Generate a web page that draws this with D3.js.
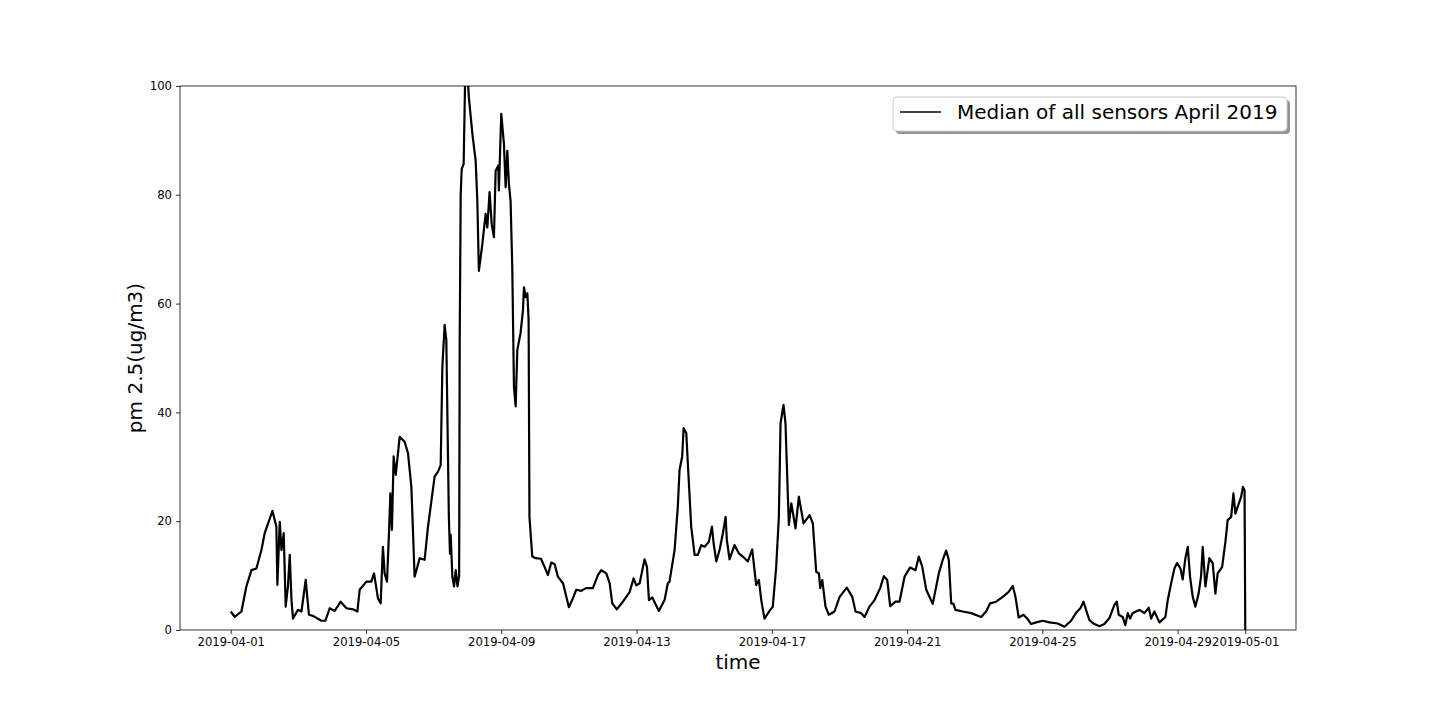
<!DOCTYPE html>
<html>
<head>
<meta charset="utf-8">
<script src="https://cdnjs.cloudflare.com/ajax/libs/d3/7.8.5/d3.min.js"></script>
<style>
  body { margin: 0; background: #fff; }
  svg { font-family: "DejaVu Sans", sans-serif; }
</style>
</head>
<body>
<div id="chart"></div>
<script>
// canvas size
var width = 1440,
    height = 720;
var margin = {top: 86, right: 144, bottom: 90, left: 180};

// hours since 2019-04-01 00:00 and the median pm 2.5 read at that time
var hours = [0, 2.8, 7.6, 11.1, 14.7, 18.2, 21.8, 24.1, 29.6, 32.4, 33.1, 34.8, 36.0, 37.6, 39.0,
    40.6, 41.9, 43.1, 44.2, 47.7, 50.2, 53.2, 55.5, 58.4, 64.3, 67.2, 70.2, 73.8, 78.0, 82.1,
    86.8, 89.9, 91.5, 96.3, 99.8, 101.7, 104.5, 106.4, 108.0, 109.2, 110.9, 112.3, 113.3, 114.4,
    115.6, 117.1, 119.9, 123.4, 125.8, 128.2, 130.5, 134.1, 137.6, 140.0, 144.7, 147.1, 149.0,
    150.2, 151.8, 153.0, 154.8, 155.6, 156.1, 157.3, 158.5, 159.7, 160.9, 162.1, 162.5, 163.2,
    163.9, 165.3, 166.4, 168.1, 169.0, 171.5, 173.8, 175.0, 176.1, 178.6, 180.9, 182.1, 183.7,
    185.2, 186.8, 188.0, 189.9, 190.3, 192.0, 193.9, 195.1, 196.3, 197.4, 198.6, 199.8, 201.0,
    202.2, 203.4, 205.7, 207.4, 208.1, 209.3, 210.5, 211.4, 212.0, 214.0, 216.4, 220.2, 222.7,
    225.1, 227.5, 229.9, 232.2, 235.8, 240.0, 242.8, 245.2, 248.8, 252.3, 257.0, 260.6, 263.0,
    266.5, 268.9, 270.8, 274.0, 278.3, 283.0, 285.9, 287.8, 290.2, 293.7, 295.4, 296.8, 299.2,
    303.8, 307.9, 310.2, 311.4, 315.0, 317.3, 318.5, 320.4, 321.4, 323.3, 324.4, 326.8, 329.2,
    331.5, 333.9, 336.3, 339.3, 341.5, 342.7, 344.6, 346.9, 349.3, 351.2, 352.1, 354.0, 357.5,
    360.6, 363.4, 367.0, 370.1, 371.7, 372.9, 374.8, 376.5, 378.8, 382.4, 384.7, 387.1, 389.0,
    390.2, 392.3, 393.7, 395.4, 396.1, 397.8, 400.8, 403.2, 406.5, 410.8, 413.1, 415.5, 417.4,
    418.4, 419.8, 422.1, 424.5, 428.5, 432.1, 437.2, 441.1, 443.4, 447.4, 449.8, 453.3, 456.9,
    460.9, 463.5, 465.9, 468.0, 471.8, 474.6, 478.2, 482.2, 486.0, 488.3, 490.7, 493.6, 498.2,
    502.5, 505.3, 507.7, 509.6, 511.3, 512.9, 514.3, 519.5, 525.5, 532.6, 536.1, 538.9, 543.2,
    547.9, 552.1, 555.0, 556.9, 559.2, 562.6, 565.6, 568.0, 571.6, 576.3, 581.0, 586.9, 591.7,
    596.4, 600.0, 603.0, 605.2, 607.1, 609.4, 612.2, 616.5, 620.0, 623.6, 627.1, 628.8, 630.2,
    633.0, 634.9, 636.6, 638.3, 640.1, 642.5, 644.9, 648.4, 651.5, 653.2, 655.5, 659.1, 663.3,
    665.0, 667.4, 669.7, 671.6, 674.0, 675.6, 677.5, 679.2, 680.8, 682.7, 684.6, 686.9, 688.6,
    689.8, 691.7, 694.5, 696.9, 698.8, 700.4, 703.6, 705.9, 707.5, 710.0, 711.6, 713.0, 714.7,
    717.1, 718.3, 719.5, 720.0];

var pm25 = [3.4, 2.4, 3.4, 8.0, 11.0, 11.3, 14.7, 17.8, 21.9, 19.0, 8.3, 19.9, 14.7, 17.8, 4.3,
    8.0, 13.8, 5.5, 2.1, 3.7, 3.4, 9.2, 2.8, 2.6, 1.7, 1.7, 4.0, 3.5, 5.2, 4.0,
    3.8, 3.4, 7.4, 8.9, 8.9, 10.4, 5.8, 4.9, 15.3, 10.4, 8.9, 17.8, 25.1, 18.4,
    31.9, 28.5, 35.5, 34.6, 32.5, 26.3, 9.8, 13.2, 12.9, 19.0, 28.2, 29.1, 30.3,
    48.4, 56.1, 53.3, 20.8, 14.0, 17.5, 9.8, 8.0, 11.0, 8.0, 10.0, 53.3, 80.1,
    84.7, 85.7, 102, 102, 97.9, 91.2, 86.3, 78.9, 66.0, 71.0, 76.5, 74.0, 80.5,
    74.6, 72.2, 84.4, 85.4, 80.8, 94.9, 89.3, 81.4, 88.1, 82.0, 78.9, 66.7, 44.7,
    41.1, 51.5, 54.6, 58.8, 63.0, 61.2, 61.9, 57.0, 20.8, 13.5, 13.2, 13.1, 11.6,
    10.1, 12.4, 12.1, 9.8, 8.6, 4.2, 5.8, 7.4, 7.2, 7.7, 7.7, 10.1, 11.0,
    10.4, 8.6, 4.9, 3.8, 5.2, 6.9, 9.5, 8.2, 8.6, 13.0, 11.6, 5.5, 6.0,
    3.5, 5.5, 8.6, 8.9, 14.7, 22.7, 29.4, 31.9, 37.1, 36.2, 30.6, 19.0, 13.8,
    13.8, 15.6, 15.3, 16.2, 19.0, 15.9, 12.6, 14.7, 17.8, 20.8, 16.5, 13.0, 15.6,
    14.1, 13.5, 12.6, 14.8, 11.0, 8.3, 9.2, 5.5, 2.1, 3.5, 4.3, 11.6, 20.8,
    38.0, 41.4, 38.0, 24.5, 19.3, 23.3, 18.7, 24.5, 19.6, 21.1, 19.6, 10.7, 10.4,
    7.7, 9.2, 4.3, 2.8, 3.4, 6.1, 7.8, 6.1, 3.4, 3.1, 2.4, 4.3, 5.5,
    7.7, 9.9, 9.2, 4.4, 5.2, 5.2, 9.8, 11.5, 11.0, 13.5, 11.7, 7.4, 4.8,
    10.4, 12.9, 14.6, 12.9, 4.9, 4.8, 3.7, 3.4, 3.1, 2.4, 3.4, 4.9, 5.2,
    6.1, 7.0, 8.1, 6.1, 2.3, 2.8, 2.0, 1.1, 1.4, 1.7, 1.4, 1.2, 0.6,
    1.7, 3.2, 4.0, 5.2, 3.6, 1.8, 1.2, 0.7, 1.1, 2.2, 4.6, 5.2, 2.8,
    2.4, 0.9, 3.1, 2.1, 3.1, 3.4, 3.7, 3.1, 4.1, 2.1, 3.4, 1.4, 2.4,
    5.5, 8.6, 11.3, 12.3, 11.3, 9.3, 13.2, 15.3, 9.8, 6.1, 4.3, 6.7, 9.8,
    15.3, 8.0, 13.2, 12.3, 6.7, 10.4, 11.6, 16.2, 20.2, 20.8, 25.1, 21.4, 22.7,
    24.5, 26.3, 25.7, 0];

var yTicks = [0, 20, 40, 60, 80, 100];
var tickDates = ["2019-04-01", "2019-04-05", "2019-04-09", "2019-04-13", "2019-04-17",
    "2019-04-21", "2019-04-25", "2019-04-29", "2019-05-01"];
var seriesName = "Median of all sensors April 2019";

var start = Date.UTC(2019, 3, 1);
var parseDay = d3.utcParse("%Y-%m-%d");
var data = hours.map(function(h, i) {
    return {t: new Date(start + h * 3600e3), v: pm25[i]};
});

var innerW = width - margin.left - margin.right,
    innerH = height - margin.top - margin.bottom;

var svg = d3.select("#chart").append("svg")
    .attr("width", width)
    .attr("height", height);

// matplotlib-style 5% padding around the time range
var t0 = d3.min(data, function(d) { return d.t; }),
    t1 = d3.max(data, function(d) { return d.t; });
var pad = (t1 - t0) * 0.05;
var x = d3.scaleUtc()
    .domain([new Date(+t0 - pad), new Date(+t1 + pad)])
    .range([0, innerW]);
var y = d3.scaleLinear()
    .domain([0, 100])
    .range([innerH, 0]);

var g = svg.append("g")
    .attr("transform", "translate(" + margin.left + "," + margin.top + ")");

g.append("clipPath").attr("id", "clip")
  .append("rect").attr("width", innerW).attr("height", innerH);

var line = d3.line()
    .x(function(d) { return x(d.t); })
    .y(function(d) { return y(d.v); });

g.append("path")
    .datum(data)
    .attr("clip-path", "url(#clip)")
    .attr("fill", "none")
    .attr("stroke", "#000")
    .attr("stroke-width", 2.2)
    .attr("stroke-linejoin", "round")
    .attr("d", line);

// axes
var xAxis = d3.axisBottom(x)
    .tickValues(tickDates.map(parseDay))
    .tickFormat(d3.utcFormat("%Y-%m-%d"))
    .tickSizeInner(4).tickSizeOuter(0).tickPadding(4);
var yAxis = d3.axisLeft(y)
    .tickValues(yTicks)
    .tickSizeInner(4).tickSizeOuter(0).tickPadding(4);

var gx = g.append("g")
    .attr("transform", "translate(0," + innerH + ")")
    .call(xAxis);
var gy = g.append("g").call(yAxis);

[gx, gy].forEach(function(a) {
    a.select(".domain").remove();
    a.selectAll("text").attr("font-size", 11.6).attr("fill", "#000")
        .attr("font-family", "DejaVu Sans");
    a.selectAll("line").attr("stroke", "#000").attr("stroke-width", 0.8);
});

// frame
g.append("rect")
    .attr("width", innerW)
    .attr("height", innerH)
    .attr("fill", "none")
    .attr("stroke", "#000")
    .attr("stroke-width", 0.8);

// axis labels
svg.append("text")
    .attr("x", margin.left + innerW / 2)
    .attr("y", 669)
    .attr("text-anchor", "middle")
    .attr("font-size", 20)
    .text("time");

svg.append("text")
    .attr("transform", "translate(142," + (margin.top + innerH / 2) + ") rotate(-90)")
    .attr("text-anchor", "middle")
    .attr("font-size", 20)
    .text("pm 2.5(ug/m3)");

// legend
var legend = g.append("g")
    .attr("transform", "translate(" + (innerW - 403) + ",11)");
legend.append("rect")
    .attr("x", 3).attr("y", 3)
    .attr("width", 394).attr("height", 34)
    .attr("rx", 4)
    .attr("fill", "#888")
    .attr("opacity", 0.9);
legend.append("rect")
    .attr("width", 394).attr("height", 34)
    .attr("rx", 4)
    .attr("fill", "#fff")
    .attr("stroke", "#ccc")
    .attr("stroke-width", 1);
legend.append("line")
    .attr("x1", 7).attr("x2", 48)
    .attr("y1", 15).attr("y2", 15)
    .attr("stroke", "#000")
    .attr("stroke-width", 1.5);
legend.append("text")
    .attr("x", 64).attr("y", 22)
    .attr("font-size", 20)
    .text(seriesName);
</script>
</body>
</html>
